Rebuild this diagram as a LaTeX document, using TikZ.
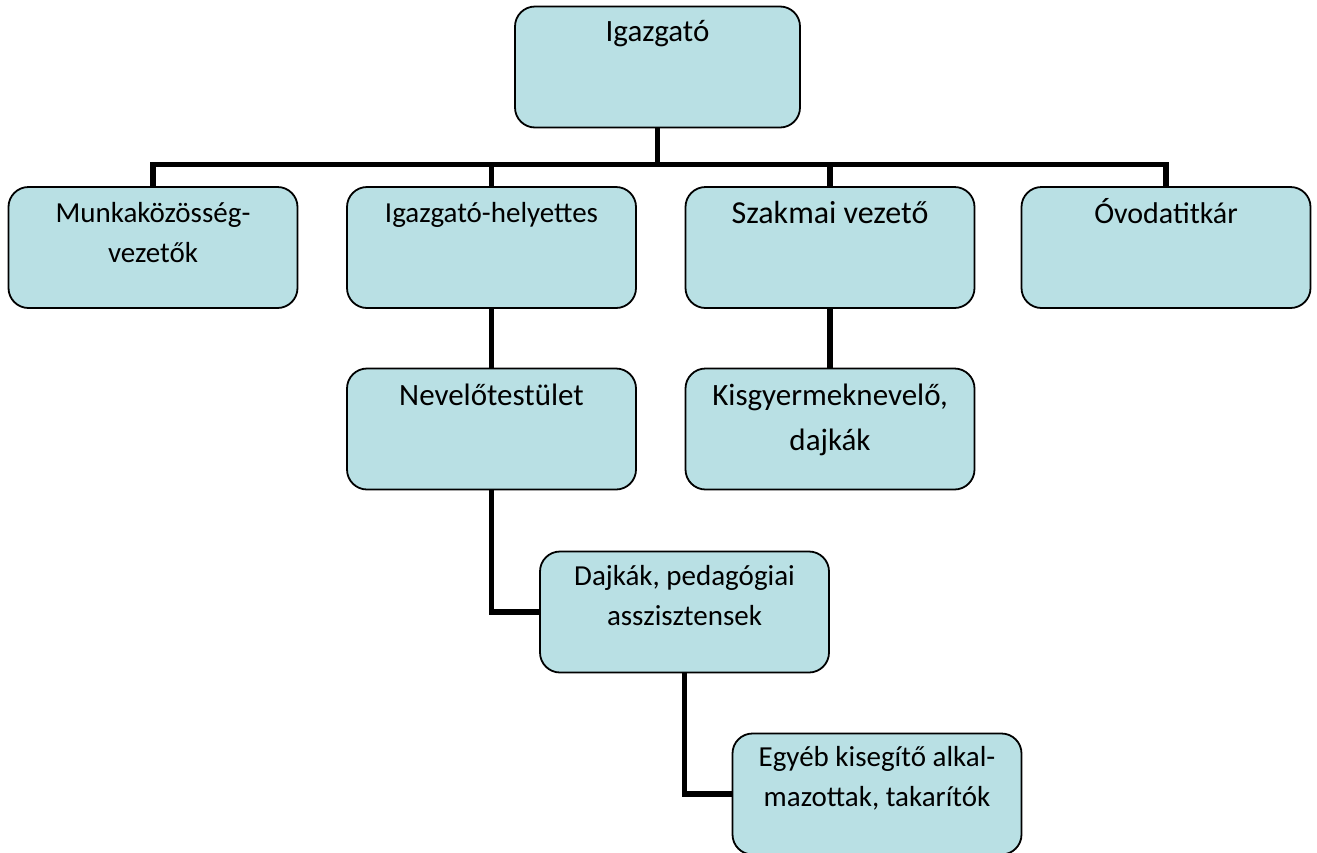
\documentclass[tikz,border=0pt]{standalone}
\usepackage{fontspec}
\setmainfont{Carlito}
\usetikzlibrary{backgrounds}
\definecolor{boxfill}{RGB}{185,224,228}
\newcommand\twoline[2]{\vtop{\halign{\hfil##\hfil\cr #1\cr #2\cr}}}
\tikzset{
  orgbox/.style={draw=black, line width=1.8pt, fill=boxfill, rounded corners=20pt,
    minimum width=289pt, minimum height=121pt, inner sep=0pt},
  conn/.style={draw=black, line width=5.5pt, line join=miter},
  bigtxt/.style={anchor=base, inner sep=0pt, font=\fontsize{31}{45}\selectfont},
  smalltxt/.style={anchor=base, inner sep=0pt, font=\fontsize{29}{40}\selectfont}
}
\begin{document}
\begin{tikzpicture}[x=1pt,y=-1pt]
\useasboundingbox (0,0) rectangle (1317,852);
% boxes
\node[orgbox, minimum width=285pt] (ig) at (657.5,67) {};
\node[orgbox] (mk) at (153,247.5) {};
\node[orgbox] (ih) at (491.5,247.5) {};
\node[orgbox] (sz) at (830,247.5) {};
\node[orgbox] (ov) at (1166,247.5) {};
\node[orgbox] (nt) at (491.5,429) {};
\node[orgbox] (kg) at (830,429) {};
\node[orgbox] (dj) at (684.5,612) {};
\node[orgbox] (eg) at (877,794) {};
% texts
\node[bigtxt] (igt) at ([yshift=-36pt]ig.north) {Igazgató};
\node[smalltxt] (mkt) at ([yshift=-36pt]mk.north) {\twoline{Munkaközösség-}{vezetők}};
\node[smalltxt] (iht) at ([yshift=-36pt]ih.north) {Igazgató-helyettes};
\node[bigtxt, font=\fontsize{32}{45}\selectfont] (szt) at ([yshift=-37pt]sz.north) {Szakmai vezető};
\node[bigtxt, font=\fontsize{30}{45}\selectfont] (ovt) at ([yshift=-37pt]ov.north) {Óvodatitkár};
\node[bigtxt] (ntt) at ([yshift=-38pt]nt.north) {Nevelőtestület};
\node[bigtxt] (kgt) at ([yshift=-38pt]kg.north) {\twoline{Kisgyermeknevelő,}{dajkák}};
\node[smalltxt] (djt) at ([yshift=-35pt]dj.north) {\twoline{Dajkák, pedagógiai}{asszisztensek}};
\node[smalltxt] (egt) at ([yshift=-34pt]eg.north) {\twoline{Egyéb kisegítő alkal-}{mazottak, takarítók}};
% connectors
\begin{scope}[on background layer]
\coordinate (bus) at ([yshift=-36pt]ig.south);
\draw[conn] (ig.south) -- (bus);
\draw[conn] (mk.north) -- (mk.north |- bus) -- (ov.north |- bus) -- (ov.north);
\draw[conn] (ih.north) -- (ih.north |- bus);
\draw[conn] (sz.north) -- (sz.north |- bus);
\draw[conn] (ih.south) -- (nt.north);
\draw[conn] (sz.south) -- (kg.north);
\draw[conn] (nt.south) -- (nt.south |- dj.west) -- (dj.west);
\draw[conn] (dj.south) -- (dj.south |- eg.west) -- (eg.west);
\end{scope}
\end{tikzpicture}
\end{document}
